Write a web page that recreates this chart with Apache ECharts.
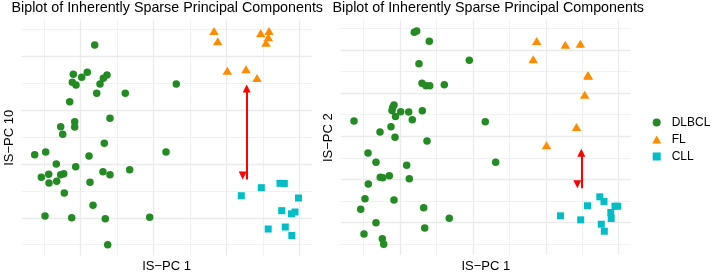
<!DOCTYPE html>
<html><head><meta charset="utf-8">
<script src="https://cdn.jsdelivr.net/npm/echarts@6/dist/echarts.min.js"></script>
<style>html,body{margin:0;padding:0;background:#fff}#c{width:713px;height:272px}</style>
</head><body><div id="c"></div>
<script>
// ---------- data ----------
const groups = ['DLBCL', 'FL', 'CLL'];

// Left panel: IS-PC 1 vs IS-PC 10
const leftDlbclPC1 = [1.383,0.796,1.180,1.027,0.769,0.870,1.721,1.620,1.529,1.438,2.223,3.623,0.697,1.803,0.834,0.834,0.450,0.505,1.647,-0.264,0.038,1.227,3.341,0.329,0.862,2.344,1.611,1.803,-0.082,0.121,0.450,0.533,0.129,0.340,1.254,0.549,1.337,0.019,0.752,1.674,2.893,1.740];
const leftDlbclPC10 = [7.416,6.328,6.402,6.216,6.030,5.930,6.301,6.179,5.967,5.622,5.622,5.967,5.310,4.694,4.567,4.371,4.382,4.099,3.765,3.342,3.442,3.294,3.442,2.997,2.896,2.785,2.711,2.599,2.503,2.614,2.599,2.636,2.291,2.354,2.317,1.920,1.463,1.066,1.003,0.965,1.017,0.000];
const leftFlPC1 = [4.658,4.760,5.940,6.168,6.149,6.086,5.023,5.537,5.839];
const leftFlPC10 = [7.935,7.553,7.850,7.935,7.701,7.501,6.461,6.513,6.190];
const leftCllPC1 = [5.957,5.408,6.470,6.588,6.978,6.517,6.786,6.882,6.146,6.615,6.794];
const leftCllPC10 = [2.117,1.820,2.280,2.273,1.734,1.263,1.147,1.214,0.583,0.657,0.342];
const leftArrow = [5.556, 5.800, 2.421]; // [PC1, from PC10, to PC10]

// Right panel: IS-PC 1 vs IS-PC 2
const rightDlbclPC1 = [1.398,1.463,1.809,1.526,2.905,1.609,1.718,1.820,2.220,0.841,0.806,0.787,1.025,1.244,1.617,0.882,1.343,-0.255,3.343,0.759,0.458,0.869,1.746,0.129,0.348,1.189,3.628,0.713,0.466,0.532,1.261,0.137,0.047,0.841,-0.071,1.655,2.357,0.348,1.683,0.019,0.521,0.559];
const rightDlbclPC2 = [9.815,9.875,9.398,8.361,8.519,7.454,7.343,7.343,7.389,6.449,6.333,6.194,6.134,6.125,6.181,5.917,5.764,5.708,5.676,5.444,5.199,4.954,4.782,4.227,3.796,3.657,3.796,3.176,3.102,3.083,3.037,2.792,2.111,2.051,1.620,1.694,1.204,1.000,0.755,0.477,0.259,0.000];
const rightFlPC1 = [4.752,5.536,5.947,4.656,6.152,6.168,6.067,5.843,5.021];
const rightFlPC2 = [9.412,9.241,9.287,8.569,7.829,7.800,6.921,5.431,4.583];
const rightCllPC1 = [5.404,5.958,6.144,6.481,6.596,6.898,6.972,6.783,6.794,6.522,6.605];
const rightCllPC2 = [1.319,1.134,1.787,2.199,1.981,1.764,1.764,1.472,1.194,0.931,0.606];
const rightArrow = [5.974, 4.241, 2.593]; // [PC1, from PC2, to PC2]

// grid-line break positions
const breaksPC1 = [0,1,2,3,4,5,6,7];
const breaksPC10 = [0,1,2,3,4,5,6,7,8];
const breaksPC2 = [0,1,2,3,4,5,6,7,8,9,10];

// ---------- helpers ----------
const FONT = 'Liberation Sans, Arial, sans-serif';
const colors = {DLBCL: '#228B22', FL: '#FF8C00', CLL: '#00BEC8'};
const zip = (a, b) => a.map((v, i) => [v, b[i]]);
function ext(arrs) {
  let mn = Infinity, mx = -Infinity;
  arrs.forEach(a => a.forEach(v => { mn = Math.min(mn, v); mx = Math.max(mx, v); }));
  const p = (mx - mn) * 0.05;
  return [mn - p, mx + p];
}
const lx = ext([leftDlbclPC1, leftFlPC1, leftCllPC1]);
const ly = ext([leftDlbclPC10, leftFlPC10, leftCllPC10]);
const rx = ext([rightDlbclPC1, rightFlPC1, rightCllPC1]);
const ry = ext([rightDlbclPC2, rightFlPC2, rightCllPC2]);

function gridLines(idx, bx, by) {
  const items = [];
  bx.forEach(v => items.push({xAxis: v, lineStyle: {width: v % 2 ? 1.3 : 0.7}}));
  by.forEach(v => items.push({yAxis: v, lineStyle: {width: v % 2 ? 1.3 : 0.7}}));
  return {
    type: 'line', data: [], xAxisIndex: idx, yAxisIndex: idx, z: 0, zlevel: 0, silent: true,
    markLine: {silent: true, z: 0, symbol: 'none', animation: false, label: {show: false},
      lineStyle: {color: '#EBEBEB', type: 'solid'}, emphasis: {disabled: true}, data: items}
  };
}
function arrow(idx, a) {
  return {
    type: 'line', data: [], xAxisIndex: idx, yAxisIndex: idx, z: 5, silent: true,
    markLine: {silent: true, z: 6, symbol: ['triangle', 'triangle'], symbolSize: [8, 8],
      symbolOffset: [0, 4],
      animation: false, label: {show: false}, emphasis: {disabled: true},
      lineStyle: {color: '#FF0000', width: 2, type: 'solid'},
      data: [[{coord: [a[0], a[1]]}, {coord: [a[0], a[2]]}]]}
  };
}
function scat(idx, name, xs, ys) {
  const sym = {DLBCL: 'circle', FL: 'triangle', CLL: 'rect'}[name];
  const size = {DLBCL: 7.5, FL: [9.5, 8], CLL: 7}[name];
  return {type: 'scatter', name, xAxisIndex: idx, yAxisIndex: idx, z: 3,
    symbol: sym, symbolSize: size, itemStyle: {color: colors[name], opacity: 1},
    data: zip(xs, ys), animation: false};
}
function xAx(idx, e) {
  return {type: 'value', gridIndex: idx, min: e[0], max: e[1],
    axisLine: {show: false}, axisTick: {show: false}, axisLabel: {show: false}, splitLine: {show: false},
    name: 'IS\u2212PC 1', nameLocation: 'middle', nameGap: 4.5,
    nameTextStyle: {fontSize: 13, color: '#000', fontFamily: FONT}};
}
function yAx(idx, e, name, gap) {
  return {type: 'value', gridIndex: idx, min: e[0], max: e[1],
    axisLine: {show: false}, axisTick: {show: false}, axisLabel: {show: false}, splitLine: {show: false},
    name, nameLocation: 'middle', nameGap: gap,
    nameTextStyle: {fontSize: 13, color: '#000', fontFamily: FONT}};
}

const chart = echarts.init(document.getElementById('c'), null, {renderer: 'canvas'});
chart.setOption({
  backgroundColor: '#fff',
  animation: false,
  title: [
    {text: 'Biplot of Inherently Sparse Principal Components', left: 11.5, top: 1.5, padding: 0,
      textStyle: {fontSize: 14.3, fontWeight: 'normal', color: '#000', fontFamily: FONT}},
    {text: 'Biplot of Inherently Sparse Principal Components', left: 332.5, top: 1.5, padding: 0,
      textStyle: {fontSize: 14.3, fontWeight: 'normal', color: '#000', fontFamily: FONT}}
  ],
  legend: {
    data: [
      {name: 'DLBCL', icon: 'circle'},
      {name: 'FL', icon: 'triangle'},
      {name: 'CLL', icon: 'path://M0,0L10,0L10,10L0,10Z'}
    ],
    orient: 'vertical', left: 652.2, top: 115.5, padding: 0,
    itemWidth: 9, itemHeight: 8, itemGap: 3,
    textStyle: {fontSize: 12, color: '#000', fontFamily: FONT, lineHeight: 14, padding: [0, 0, 0, 5.5]},
    selectedMode: false
  },
  grid: [
    {left: 21.5, top: 20.3, width: 290.2, height: 235.1, outerBoundsMode: 'none', containLabel: false},
    {left: 340.8, top: 20.3, width: 290.1, height: 234.7, outerBoundsMode: 'none', containLabel: false}
  ],
  xAxis: [xAx(0, lx), xAx(1, rx)],
  yAxis: [yAx(0, ly, 'IS\u2212PC 10', 5.5), yAx(1, ry, 'IS\u2212PC 2', 6)],
  series: [
    gridLines(0, breaksPC1, breaksPC10),
    gridLines(1, breaksPC1, breaksPC2),
    scat(0, 'DLBCL', leftDlbclPC1, leftDlbclPC10),
    scat(0, 'FL', leftFlPC1, leftFlPC10),
    scat(0, 'CLL', leftCllPC1, leftCllPC10),
    scat(1, 'DLBCL', rightDlbclPC1, rightDlbclPC2),
    scat(1, 'FL', rightFlPC1, rightFlPC2),
    scat(1, 'CLL', rightCllPC1, rightCllPC2),
    arrow(0, leftArrow),
    arrow(1, rightArrow)
  ]
});
</script></body></html>
